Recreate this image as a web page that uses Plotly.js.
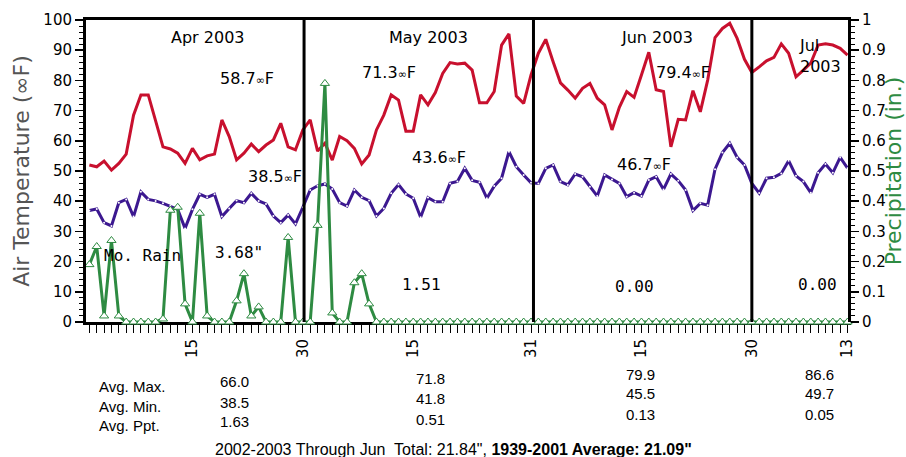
<!DOCTYPE html>
<html><head><meta charset="utf-8">
<script src="https://cdn.plot.ly/plotly-3.0.1.min.js"></script>
<style>html,body{margin:0;padding:0;background:#fff}#chart{width:906px;height:457px}</style>
</head><body><div id="chart"></div>
<script>
// ---- data (daily, Apr 1 2003 .. Jul 13 2003) ----
const startYear = 2003, startMonth = 3, startDay = 1; // Apr 1
const tmaxApr = [52.0,51.4,53.3,50.3,52.5,55.6,68.5,75.2,75.2,66.9,58.0,57.3,55.9,52.5,57.5,53.7,55.0,55.6,66.9,61.4,53.7,55.9,58.9,56.4,58.6,60.3,65.8,58.0,57.0,63.6];
const tmaxMay = [66.9,56.6,59.2,53.6,61.4,60.0,57.5,52.3,55.3,63.6,68.5,75.2,73.5,63.2,63.2,75.2,71.9,76.0,82.3,85.9,85.4,85.7,83.4,72.6,72.6,76.3,91.7,95.4,74.8,72.4,81.8];
const tmaxJun = [89.0,93.6,86.2,79.2,76.8,74.1,77.4,79.0,74.1,71.9,63.6,71.1,76.3,74.4,81.8,89.3,76.9,76.3,58.0,67.1,66.9,76.6,69.6,80.1,94.2,97.2,98.9,93.9,87.0,82.6];
const tmaxJul = [84.5,86.5,87.6,92.1,89.0,81.2,83.4,85.7,91.7,92.1,91.7,90.6,88.4];

const tminApr = [36.9,37.4,32.9,31.8,39.5,40.6,34.9,43.1,40.6,40.1,39.3,38.4,37.3,31.0,37.3,42.3,41.3,42.3,34.9,37.6,40.2,39.5,42.6,40.1,39.1,35.1,32.9,35.4,32.5,38.0];
const tminMay = [43.7,45.1,45.7,44.0,39.5,38.4,43.7,41.3,40.2,35.1,37.6,42.6,45.5,42.4,41.0,34.7,41.2,39.8,39.8,45.9,46.5,50.9,46.9,46.3,41.0,45.0,47.6,56.4,51.4,48.7,46.1];
const tminJun = [45.9,50.9,52.0,46.5,45.4,49.0,48.1,44.8,41.7,48.7,47.2,45.9,41.5,42.8,41.7,47.0,48.1,43.9,49.0,46.8,43.7,36.9,39.3,38.7,50.6,56.1,59.2,54.5,52.0,45.9];
const tminJul = [42.7,47.6,47.9,49.2,53.4,48.4,46.5,42.8,49.4,52.3,49.4,54.5,50.9];

const pptApr = [0.19,0.25,0.02,0.27,0.02,0,0,0,0,0,0.01,0.37,0.38,0.06,0,0.36,0.02,0,0,0,0.07,0.16,0.02,0.05,0,0,0,0.28,0,0];
const pptMay = [0,0.32,0.79,0.03,0,0,0.13,0.16,0.06,0,0,0,0,0,0,0,0,0,0,0,0,0,0,0,0,0,0,0,0,0,0];
const pptJun = [0,0,0,0,0,0,0,0,0,0,0,0,0,0,0,0,0,0,0,0,0,0,0,0,0,0,0,0,0,0];
const pptJul = [0,0,0,0,0,0,0,0,0,0,0,0,0];

const tickDates = ['2003-04-15','2003-04-30','2003-05-15','2003-05-31','2003-06-15','2003-06-30','2003-07-13'];
const tickLabels = ['15','30','15','31','15','30','13'];
const monthEnds = ['2003-04-30 04:00','2003-05-31 08:00','2003-06-30 00:00'];

const monthTitles = ['Apr 2003','May 2003','Jun 2003','Jul<br>2003'];
const avgMaxTemp = ['58.7','71.3','79.4'];
const avgMinTemp = ['38.5','43.6','46.7'];
const rainTotals = ['3.68"','1.51','0.00','0.00'];
const tableLabels = ['Avg. Max.','Avg. Min.','Avg. Ppt.'];
const histMax = ['66.0','71.8','79.9','86.6'];
const histMin = ['38.5','41.8','45.5','49.7'];
const histPpt = ['1.63','0.51','0.13','0.05'];
const footerText = '2002-2003 Through Jun\u00a0 Total: 21.84", <b>1939-2001 Average: 21.09"</b>';

// ---- build series ----
const tmax = [].concat(tmaxApr, tmaxMay, tmaxJun, tmaxJul);
const tmin = [].concat(tminApr, tminMay, tminJun, tminJul);
const ppt = [].concat(pptApr, pptMay, pptJun, pptJul);
const dates = tmax.map((_, i) => new Date(Date.UTC(startYear, startMonth, startDay + i)).toISOString().slice(0, 10));

const RED = '#c8102e', PURPLE = '#3c1890', GREEN = '#2e8b42';

const traces = [
  {x: dates, y: tmax, type: 'scatter', mode: 'lines', line: {color: RED, width: 3}, hoverinfo: 'skip'},
  {x: dates, y: tmin, type: 'scatter', mode: 'lines+markers', line: {color: PURPLE, width: 3},
   marker: {color: '#ffffff', size: 2}, hoverinfo: 'skip'},
  {x: dates, y: ppt, yaxis: 'y2', type: 'scatter', mode: 'lines+markers', line: {color: GREEN, width: 3},
   marker: {symbol: 'triangle-up', size: 8, color: '#ffffff', line: {color: GREEN, width: 1}},
   cliponaxis: false, hoverinfo: 'skip'}
];

// pixel -> paper helpers (plot area: x 86..848, y 20..322)
const L = 86, R = 848, T = 20, B = 322;
const px = x => (x - L) / (R - L);
const py = y => (B - y) / (B - T);
const ann = (text, x, y, font, xanchor, extra) => Object.assign({
  text, xref: 'paper', yref: 'paper', x: px(x), y: py(y), xanchor: xanchor || 'center', yanchor: 'middle',
  showarrow: false, font
}, extra || {});

const fSans = {family: 'DejaVu Sans, sans-serif', size: 16, color: '#000'};
const fMono = {family: 'DejaVu Sans Mono, monospace', size: 16, color: '#000'};
const fTab = {family: 'Liberation Sans, Arial, sans-serif', size: 15, color: '#000'};
const fFoot = {family: 'Liberation Sans, Arial, sans-serif', size: 16, color: '#000'};
const deg = v => v + '<span style="font-size:11px">∞</span>F';

const annotations = [
  ann(monthTitles[0], 207, 38, fSans),
  ann(monthTitles[1], 428, 38, fSans),
  ann(monthTitles[2], 657, 38, fSans),
  ann(monthTitles[3], 797, 56, fSans, 'left', {align: 'left'}),
  ann(deg(avgMaxTemp[0]), 218, 78, fSans, 'left'),
  ann(deg(avgMinTemp[0]), 246, 176, fSans, 'left'),
  ann(deg(avgMaxTemp[1]), 360, 72, fSans, 'left'),
  ann(deg(avgMinTemp[1]), 410, 157, fSans, 'left'),
  ann(deg(avgMaxTemp[2]), 654, 72, fSans, 'left'),
  ann(deg(avgMinTemp[2]), 615, 164, fSans, 'left'),
  ann('Mo. Rain', 102, 255, fMono, 'left'),
  ann(rainTotals[0], 213, 252, fMono, 'left'),
  ann(rainTotals[1], 400, 284, fMono, 'left'),
  ann(rainTotals[2], 613, 286, fMono, 'left'),
  ann(rainTotals[3], 796, 284, fMono, 'left'),
  ann(tableLabels[0], 97, 386, fTab, 'left'),
  ann(tableLabels[1], 97, 406, fTab, 'left'),
  ann(tableLabels[2], 97, 425, fTab, 'left'),
  ann(footerText, 453, 449, fFoot)
];
const colX = [234, 430, 640, 819];
const colY = [[382, 402, 421], [378, 398, 419], [374, 394, 414], [374, 394, 414]];
[histMax, histMin, histPpt].forEach((row, r) => row.forEach((v, c) => annotations.push(ann(v, colX[c], colY[c][r], fTab))));

const shapes = monthEnds.map(d => ({type: 'line', xref: 'x', yref: 'paper', x0: d, x1: d, y0: 0, y1: 1,
  line: {color: '#000', width: 3}}));

const tickFont = {family: 'DejaVu Sans, sans-serif', size: 15, color: '#000'};
const layout = {
  width: 906, height: 457,
  margin: {l: L, r: 906 - R, t: T, b: 457 - B},
  paper_bgcolor: '#fff', plot_bgcolor: '#fff',
  showlegend: false,
  xaxis: {
    type: 'date', range: ['2003-03-31 13:00', '2003-07-13 01:30'],
    tickmode: 'array', tickvals: tickDates, ticktext: tickLabels, tickangle: -90,
    ticks: 'outside', ticklen: 8, tickwidth: 1, tickcolor: '#000', tickfont: tickFont,
    minor: {dtick: 86400000, tick0: '2003-04-01', ticks: 'outside', ticklen: 8, tickwidth: 1, tickcolor: '#000', showgrid: false},
    showline: true, linewidth: 3, linecolor: '#000', mirror: true,
    showgrid: false, zeroline: false, layer: 'below traces', fixedrange: true
  },
  yaxis: {
    range: [0, 100], dtick: 10, tick0: 0,
    ticks: 'outside', ticklen: 8, tickwidth: 1.5, tickcolor: '#000', tickfont: tickFont,
    minor: {dtick: 2, ticks: 'outside', ticklen: 4, tickwidth: 1, tickcolor: '#000', showgrid: false},
    showline: true, linewidth: 3, linecolor: '#000',
    showgrid: false, zeroline: false,
    title: {text: 'Air Temperature (∞F)', font: {family: 'DejaVu Sans, sans-serif', size: 22, color: '#555'}, standoff: 8}
  },
  yaxis2: {
    overlaying: 'y', side: 'right', range: [0, 1], dtick: 0.1, tick0: 0,
    ticks: 'outside', ticklen: 8, tickwidth: 1.5, tickcolor: '#000', tickfont: tickFont,
    minor: {dtick: 0.02, ticks: 'outside', ticklen: 4, tickwidth: 1, tickcolor: '#000', showgrid: false},
    showline: true, linewidth: 3, linecolor: '#000',
    showgrid: false, zeroline: false,
    title: {text: 'Precipitation (in.)', font: {family: 'DejaVu Sans, sans-serif', size: 22, color: GREEN}, standoff: 2}
  },
  shapes, annotations
};

Plotly.newPlot('chart', traces, layout, {staticPlot: true, displayModeBar: false});
</script>
</body></html>
